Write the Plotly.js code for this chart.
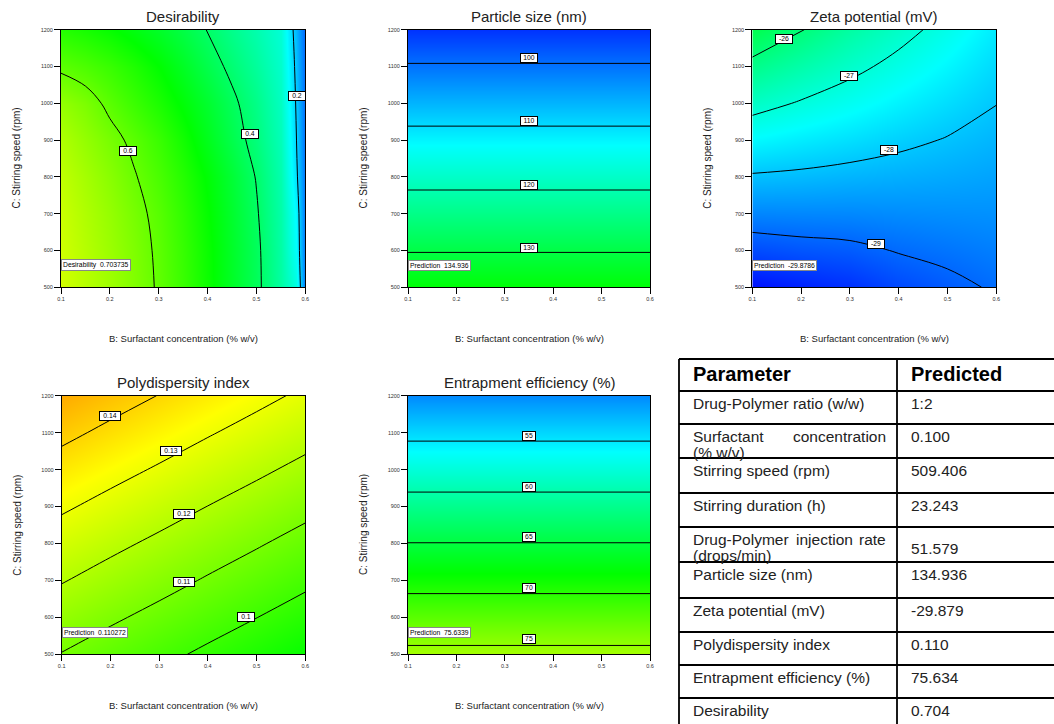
<!DOCTYPE html>
<html><head><meta charset="utf-8">
<script src="https://cdn.plot.ly/plotly-3.0.1.min.js"></script>
<style>html,body{margin:0;padding:0;background:#fff}#chart{width:1054px;height:724px}</style>
</head><body><div id="chart"></div>
<script>
// ---------------- data ----------------
const surfactantX = [0.1, 0.2, 0.3, 0.4, 0.5, 0.6];
const desirX = [0.1, 0.15, 0.2, 0.25, 0.3, 0.35, 0.4, 0.45, 0.5, 0.55, 0.58, 0.6];
const speedY = [500, 600, 700, 800, 900, 1000, 1100, 1200];

// Desirability, rows = stirring speed, cols = desirX
const desirability = [
  [0.705, 0.680, 0.655, 0.627, 0.594, 0.556, 0.511, 0.463, 0.415, 0.340, 0.280, 0.120],
  [0.703, 0.678, 0.652, 0.624, 0.591, 0.553, 0.509, 0.461, 0.413, 0.338, 0.255, 0.118],
  [0.698, 0.672, 0.646, 0.617, 0.585, 0.547, 0.503, 0.456, 0.406, 0.334, 0.245, 0.117],
  [0.688, 0.662, 0.634, 0.604, 0.572, 0.536, 0.494, 0.448, 0.397, 0.328, 0.221, 0.115],
  [0.672, 0.645, 0.617, 0.588, 0.556, 0.518, 0.472, 0.426, 0.380, 0.318, 0.210, 0.110],
  [0.645, 0.622, 0.588, 0.558, 0.527, 0.493, 0.454, 0.412, 0.368, 0.310, 0.201, 0.108],
  [0.590, 0.575, 0.555, 0.530, 0.500, 0.465, 0.425, 0.387, 0.348, 0.300, 0.193, 0.105],
  [0.535, 0.522, 0.505, 0.484, 0.460, 0.432, 0.398, 0.363, 0.330, 0.290, 0.182, 0.100]
];
// Particle size (nm) depends on stirring speed only
const particleSize = [135.5, 129.7, 123.8, 117.9, 112.2, 106.4, 100.5, 94.6];
// Zeta potential (mV), rows = speed, cols = surfactantX
const zetaPotential = [
  [-29.93, -29.75, -29.60, -29.34, -29.14, -28.94],
  [-29.31, -29.20, -29.13, -28.97, -28.86, -28.75],
  [-28.68, -28.66, -28.65, -28.61, -28.58, -28.56],
  [-28.06, -28.11, -28.18, -28.24, -28.30, -28.37],
  [-27.43, -27.58, -27.72, -27.88, -28.03, -28.18],
  [-26.79, -27.05, -27.28, -27.52, -27.75, -27.99],
  [-26.16, -26.51, -26.85, -27.16, -27.47, -27.80],
  [-25.53, -25.97, -26.43, -26.81, -27.19, -27.61]
];
// Polydispersity index, rows = speed, cols = surfactantX
const pdi = [
  [0.1097, 0.1059, 0.1022, 0.0984, 0.0947, 0.0909],
  [0.1151, 0.1113, 0.1076, 0.1038, 0.1001, 0.0963],
  [0.1205, 0.1167, 0.1130, 0.1092, 0.1055, 0.1017],
  [0.1258, 0.1220, 0.1183, 0.1145, 0.1108, 0.1070],
  [0.1312, 0.1274, 0.1237, 0.1199, 0.1162, 0.1124],
  [0.1366, 0.1328, 0.1291, 0.1253, 0.1216, 0.1178],
  [0.1420, 0.1382, 0.1345, 0.1307, 0.1270, 0.1232],
  [0.1473, 0.1435, 0.1398, 0.1360, 0.1323, 0.1285]
];
// Entrapment efficiency (%) depends on stirring speed only
const entrapment = [75.85, 72.30, 68.72, 65.07, 61.42, 57.79, 54.17, 50.54];

// Contour levels [start, end, step]
const desirLevels = [0.2, 0.6, 0.2];
const sizeLevels = [100, 130, 10];
const zetaLevels = [-29, -26, 1];
const pdiLevels = [0.10, 0.14, 0.01];
const eeLevels = [55, 75, 5];

// Prediction values at the chosen point
const predictionPoint = {x: 0.1, y: 509.406};
const predDesirability = '0.703735';
const predSize = '134.936';
const predZeta = '-29.8786';
const predPdi = '0.110272';
const predEE = '75.6339';

// Table
const tableHeader = ['Parameter', 'Predicted'];
const tableParams = ['Drug-Polymer ratio (w/w)', 'Surfactant concentration (% w/v)', 'Stirring speed (rpm)',
  'Stirring duration (h)', 'Drug-Polymer injection rate (drops/min)', 'Particle size (nm)',
  'Zeta potential (mV)', 'Polydispersity index', 'Entrapment efficiency (%)', 'Desirability'];
const tablePredicted = ['1:2', '0.100', '509.406', '23.243', '51.579', '134.936', '-29.879', '0.110', '75.634', '0.704'];

const xTicks = [0.1, 0.2, 0.3, 0.4, 0.5, 0.6];
const yTicks = [500, 600, 700, 800, 900, 1000, 1100, 1200];

// ---------------- layout / styles ----------------
const W = 1054, H = 724;
const px = v => v / W, py = v => 1 - v / H;
const FONT = '"Liberation Sans", Arial, sans-serif';
const colorscale = [[0, 'rgb(0,0,255)'], [0.25, 'rgb(0,255,255)'], [0.5, 'rgb(0,255,0)'], [0.75, 'rgb(255,255,0)'], [1, 'rgb(255,0,0)']];

const rowsOf = (vals) => vals.map(v => [v, v]);

const panels = [
  {title: 'Desirability', x: desirX, z: desirability, zr: [0, 1], lv: desirLevels,
   box: [61, 305.3, 29.7, 287.3], pred: 'Desirability\u00a0\u00a0' + predDesirability,
   labels: [[0.238, 871, 0.6], [0.487, 916, 0.4], [0.584, 1021, 0.2]]},
  {title: 'Particle size (nm)', x: [0.1, 0.6], z: rowsOf(particleSize), zr: [90, 182], lv: sizeLevels,
   box: [408, 650, 29.7, 287.3], pred: 'Prediction\u00a0\u00a0' + predSize,
   labels: [[0.35, 1124, 100], [0.35, 952, 110], [0.35, 778, 120], [0.35, 607, 130]]},
  {title: 'Zeta potential (mV)', x: surfactantX, z: zetaPotential, zr: [-30.1, -19.3], lv: zetaLevels,
   box: [752.3, 996.3, 29.7, 287.3], pred: 'Prediction\u00a0\u00a0' + predZeta,
   labels: [[0.164, 1176, -26], [0.298, 1073, -27], [0.38, 874, -28], [0.353, 618, -29]]},
  {title: 'Polydispersity index', x: surfactantX, z: pdi, zr: [0.004, 0.176], lv: pdiLevels,
   box: [61.7, 305.3, 395.7, 654.3], pred: 'Prediction\u00a0\u00a0' + predPdi,
   labels: [[0.199, 1145, 0.14], [0.324, 1049, 0.13], [0.35, 880, 0.12], [0.351, 697, 0.11], [0.478, 601, 0.1]]},
  {title: 'Entrapment efficiency (%)', x: [0.1, 0.6], z: rowsOf(entrapment), zr: [44, 92], lv: eeLevels,
   box: [408, 650, 395.7, 654.3], pred: 'Prediction\u00a0\u00a0' + predEE,
   labels: [[0.35, 1091, 55], [0.35, 954, 60], [0.35, 817, 65], [0.35, 679, 70], [0.35, 541, 75]]}
];

const traces = [];
const layout = {
  width: W, height: H, margin: {l: 0, r: 0, t: 0, b: 0},
  paper_bgcolor: '#fff', plot_bgcolor: '#fff', showlegend: false,
  font: {family: FONT, color: '#222'},
  annotations: [], shapes: []
};

panels.forEach((p, i) => {
  const n = i === 0 ? '' : String(i + 1);
  const [l, r, t, b] = p.box;
  traces.push({
    type: 'contour', x: p.x, y: speedY, z: p.z,
    xaxis: 'x' + n, yaxis: 'y' + n,
    colorscale: colorscale, zauto: false, zmin: p.zr[0], zmax: p.zr[1], showscale: false,
    autocontour: false,
    contours: {start: p.lv[0], end: p.lv[1] + p.lv[2] * 1e-4, size: p.lv[2], coloring: 'heatmap', showlabels: false},
    line: {color: '#000', width: 1, smoothing: 1},
    hoverinfo: 'skip'
  });
  const axCommon = {
    showgrid: false, zeroline: false, showline: true, mirror: true, linecolor: '#000', linewidth: 1,
    ticks: 'outside', ticklen: 6, tickwidth: 1, tickcolor: '#000',
    tickfont: {size: 5.5, color: '#333', family: FONT}, fixedrange: true
  };
  layout['xaxis' + n] = Object.assign({}, axCommon, {
    domain: [px(l), px(r)], range: [0.1, 0.6], anchor: 'y' + n,
    tickmode: 'array', tickvals: xTicks, ticktext: xTicks.map(v => v.toFixed(1))
  });
  layout['yaxis' + n] = Object.assign({}, axCommon, {
    domain: [py(b), py(t)], range: [500, 1200], anchor: 'x' + n,
    tickmode: 'array', tickvals: yTicks, ticktext: yTicks.map(String)
  });
  const cx = (l + r) / 2, cy = (t + b) / 2;
  layout.annotations.push({xref: 'paper', yref: 'paper', x: px(cx), y: py(t - 13.5), text: p.title,
    showarrow: false, xanchor: 'center', yanchor: 'middle', font: {size: 15, color: '#222', family: FONT}});
  layout.annotations.push({xref: 'paper', yref: 'paper', x: px(cx), y: py(b + 51), text: 'B: Surfactant concentration (% w/v)',
    showarrow: false, xanchor: 'center', yanchor: 'middle', font: {size: 9.5, color: '#222', family: FONT}});
  layout.annotations.push({xref: 'paper', yref: 'paper', x: px(l - 45), y: py(cy), text: 'C: Stirring speed (rpm)',
    showarrow: false, xanchor: 'center', yanchor: 'middle', textangle: -90, font: {size: 10, color: '#222', family: FONT}});
  p.labels.forEach(([lx, ly, lvl]) => {
    const txt = String(+lvl.toFixed(4));
    layout.annotations.push({xref: 'x' + n, yref: 'y' + n, x: lx, y: ly, text: txt, showarrow: false,
      bgcolor: '#fff', bordercolor: '#000', borderwidth: 1, borderpad: 0,
      width: txt.length * 4 + 4, height: 7.5, font: {size: 6.8, color: '#000', family: FONT}});
  });
  layout.annotations.push({xref: 'x' + n, yref: 'y' + n, x: predictionPoint.x, y: predictionPoint.y,
    xanchor: 'left', yanchor: 'bottom', yshift: 13, text: p.pred, showarrow: false,
    bgcolor: '#fff', bordercolor: '#888', borderwidth: 1, borderpad: 1,
    font: {size: 6.8, color: '#000', family: FONT}});
});

// ---------------- table ----------------
const tbl = {left: 679, mid: 897, right: 1054, top: 359, bottom: 724,
  rowLines: [391, 424, 458, 493, 527, 562, 598, 632, 665, 698],
  textL: 691, textR: 884, valL: 909, fs: 15.5, lineGap: 16};
const lineShape = (x0, y0, x1, y1) => ({type: 'line', xref: 'paper', yref: 'paper',
  x0: px(x0), y0: py(y0), x1: px(x1), y1: py(y1), line: {color: '#000', width: 1.8}});
layout.shapes.push(lineShape(tbl.left, tbl.top, tbl.right, tbl.top));
tbl.rowLines.forEach(y => layout.shapes.push(lineShape(tbl.left, y, tbl.right, y)));
layout.shapes.push(lineShape(tbl.left, tbl.top, tbl.left, tbl.bottom));
layout.shapes.push(lineShape(tbl.mid, tbl.top, tbl.mid, tbl.bottom));

const txtAnn = (x, y, text, opts) => Object.assign({xref: 'paper', yref: 'paper', x: px(x), y: py(y), text: text,
  showarrow: false, xanchor: 'left', yanchor: 'middle', font: {size: tbl.fs, color: '#222', family: FONT}}, opts || {});

const headFont = {font: {size: 20, color: '#000', family: FONT, weight: 'bold'}};
layout.annotations.push(txtAnn(tbl.textL, tbl.top + 15, '<b>' + tableHeader[0] + '</b>', headFont));
layout.annotations.push(txtAnn(tbl.valL, tbl.top + 15, '<b>' + tableHeader[1] + '</b>', headFont));

const ctx = document.createElement('canvas').getContext('2d');
ctx.font = tbl.fs + 'px "Liberation Sans", Arial, sans-serif';
const wTxt = s => ctx.measureText(s).width;
const colW = tbl.textR - tbl.textL;
tableParams.forEach((label, i) => {
  const top = tbl.rowLines[i];
  const words = label.match(/\([^)]*\)|\S+/g);   // keep bracketed groups together
  const lines = [];
  let cur = [];
  words.forEach(w => {
    const trial = cur.concat([w]).join(' ');
    if (cur.length && wTxt(trial) > colW) { lines.push(cur); cur = [w]; } else cur.push(w);
  });
  lines.push(cur);
  lines.forEach((ws, li) => {
    const y = top + 12.5 + li * tbl.lineGap;
    if (li < lines.length - 1 && ws.length > 1) {
      const total = ws.reduce((s, w) => s + wTxt(w), 0);
      const gap = (colW - total) / (ws.length - 1);
      let x = tbl.textL;
      ws.forEach(w => { layout.annotations.push(txtAnn(x, y, w)); x += wTxt(w) + gap; });
    } else {
      layout.annotations.push(txtAnn(tbl.textL, y, ws.join(' ')));
    }
  });
  const vy = lines.length > 1 && lines[0].length > 2 ? top + 12.5 + tbl.lineGap * 0.55 : top + 12.5;
  layout.annotations.push(txtAnn(tbl.valL, vy, tablePredicted[i]));
});

Plotly.newPlot('chart', traces, layout, {staticPlot: true, displayModeBar: false});
</script>
</body></html>
